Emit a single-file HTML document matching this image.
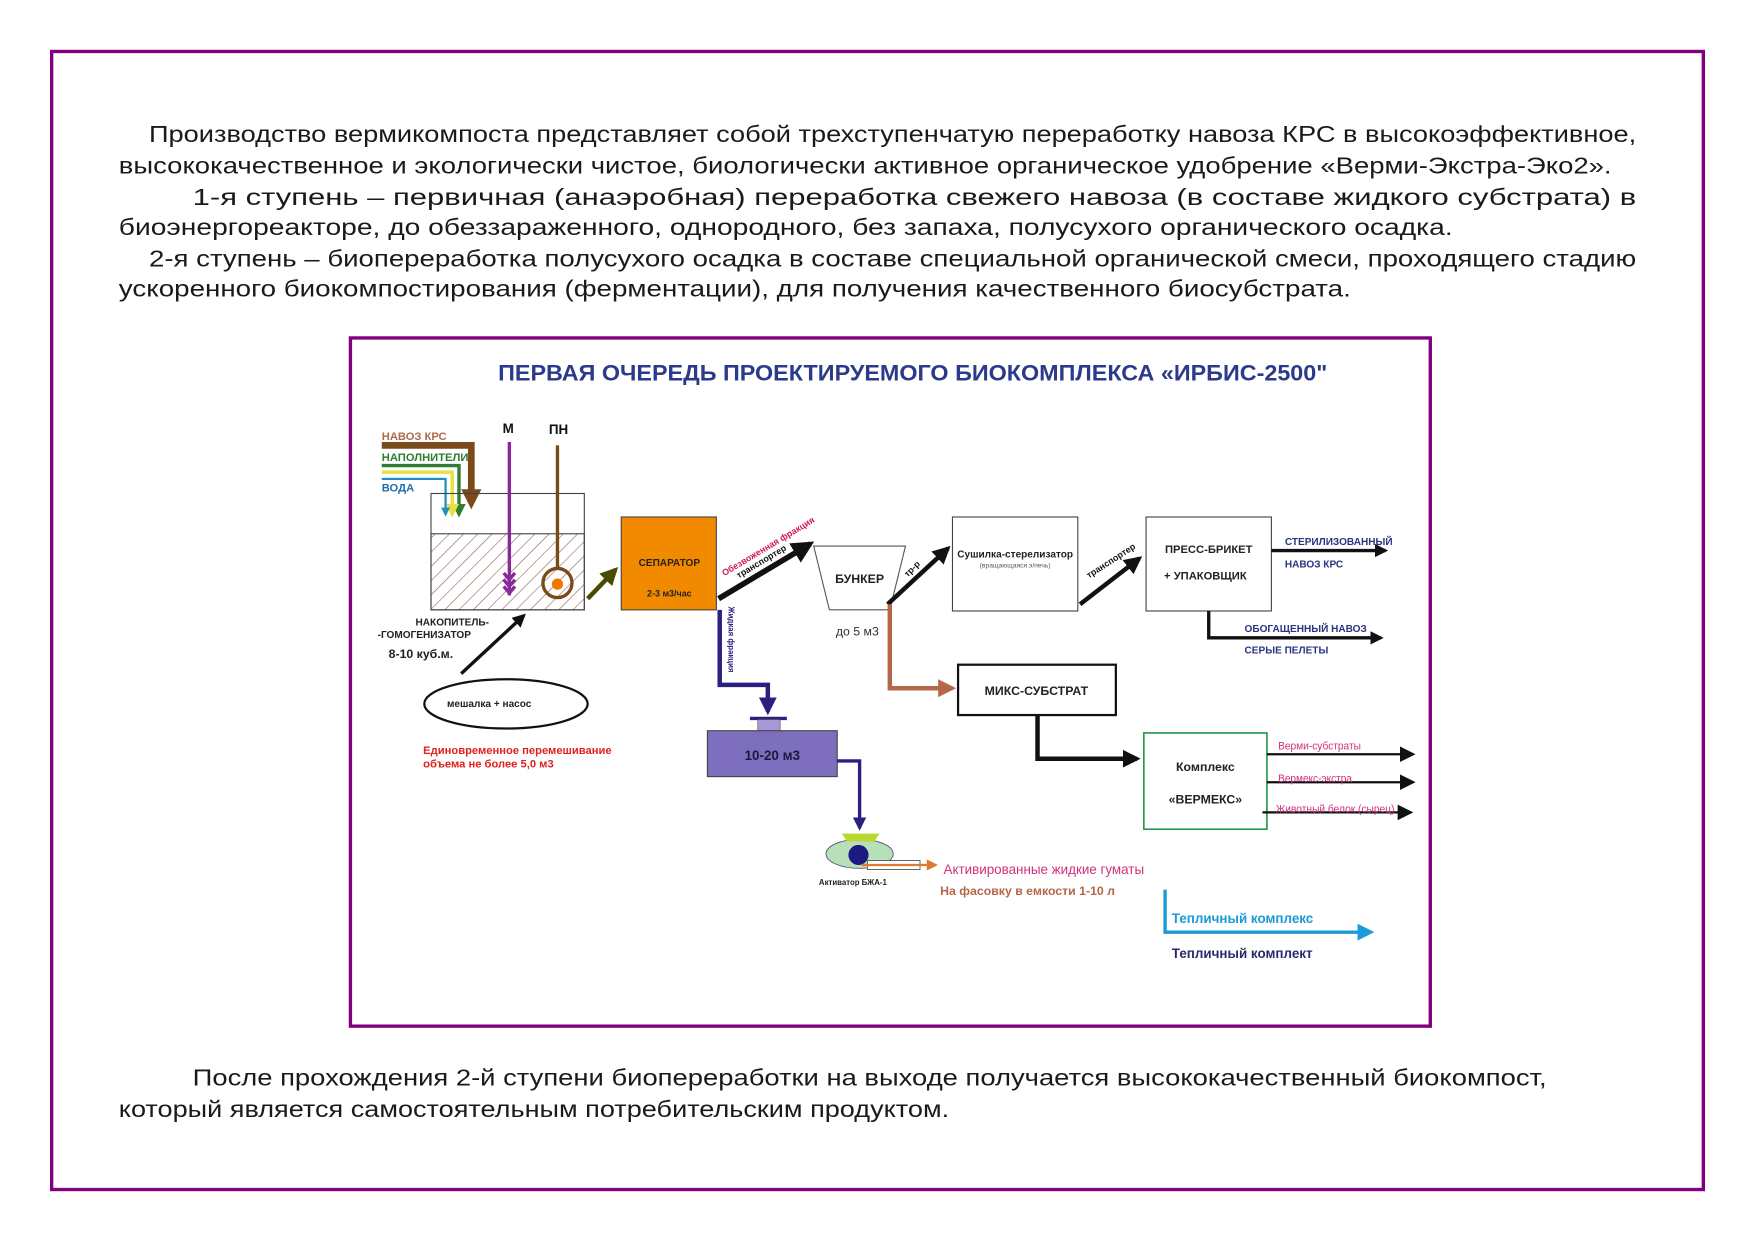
<!DOCTYPE html>
<html><head><meta charset="utf-8"><style>
html,body{margin:0;padding:0;background:#fff}
svg{display:block}
.p{font-family:"Liberation Sans",sans-serif;font-size:21px;fill:#1a1a1a}
.d{font-family:"Liberation Sans",sans-serif;font-weight:bold}
</style></head><body>
<svg width="1755" height="1241" viewBox="0 0 1568 1109" xmlns="http://www.w3.org/2000/svg">
<defs>
<marker id="ab" viewBox="0 0 10 10" refX="8" refY="5" markerWidth="4" markerHeight="4" orient="auto"><path d="M0,0L10,5L0,10z" fill="#111"/></marker>
<marker id="abs" viewBox="0 0 10 10" refX="8" refY="5" markerWidth="7" markerHeight="7" orient="auto"><path d="M0,0L10,5L0,10z" fill="#111"/></marker>
<marker id="an" viewBox="0 0 10 10" refX="8" refY="5" markerWidth="4" markerHeight="4" orient="auto"><path d="M0,0L10,5L0,10z" fill="#2a2080"/></marker>
<marker id="abr" viewBox="0 0 10 10" refX="8" refY="5" markerWidth="4" markerHeight="4" orient="auto"><path d="M0,0L10,5L0,10z" fill="#b5674a"/></marker>
<marker id="abl" viewBox="0 0 10 10" refX="8" refY="5" markerWidth="5" markerHeight="5" orient="auto"><path d="M0,0L10,5L0,10z" fill="#1a9ad6"/></marker>
<marker id="ao" viewBox="0 0 10 10" refX="8" refY="5" markerWidth="5" markerHeight="5" orient="auto"><path d="M0,0L10,5L0,10z" fill="#e07a30"/></marker>
<marker id="aol" viewBox="0 0 10 10" refX="8" refY="5" markerWidth="4" markerHeight="4" orient="auto"><path d="M0,0L10,5L0,10z" fill="#4a4a00"/></marker>
<marker id="abrn" viewBox="0 0 10 10" refX="6" refY="5" markerWidth="3" markerHeight="3" orient="auto"><path d="M0,0L10,5L0,10z" fill="#7a4a1a"/></marker>
<marker id="ag" viewBox="0 0 10 10" refX="8" refY="5" markerWidth="4" markerHeight="4" orient="auto"><path d="M0,0L10,5L0,10z" fill="#2e7d32"/></marker>
<marker id="ay" viewBox="0 0 10 10" refX="8" refY="5" markerWidth="4" markerHeight="4" orient="auto"><path d="M0,0L10,5L0,10z" fill="#e8e040"/></marker>
<marker id="ac" viewBox="0 0 10 10" refX="8" refY="5" markerWidth="4" markerHeight="4" orient="auto"><path d="M0,0L10,5L0,10z" fill="#1e8fc0"/></marker>
<pattern id="h" width="9" height="9" patternUnits="userSpaceOnUse" patternTransform="rotate(45)"><line x1="0" y1="0" x2="0" y2="9" stroke="#8b5a4a" stroke-width="1"/></pattern>
</defs>
<rect x="46" y="46" width="1476" height="1017" fill="none" stroke="#800080" stroke-width="3"/>
<text class="p" x="133" y="127" textLength="1329" lengthAdjust="spacingAndGlyphs">Производство вермикомпоста представляет собой трехступенчатую переработку навоза КРС в высокоэффективное,</text>
<text class="p" x="106" y="155" textLength="1334" lengthAdjust="spacingAndGlyphs">высококачественное и экологически чистое, биологически активное органическое удобрение «Верми-Экстра-Эко2».</text>
<text class="p" x="172" y="183" textLength="1290" lengthAdjust="spacingAndGlyphs">1-я ступень – первичная (анаэробная) переработка свежего навоза (в составе жидкого субстрата) в</text>
<text class="p" x="106" y="210" textLength="1192" lengthAdjust="spacingAndGlyphs">биоэнергореакторе, до обеззараженного, однородного, без запаха, полусухого органического осадка.</text>
<text class="p" x="133" y="238" textLength="1329" lengthAdjust="spacingAndGlyphs">2-я ступень – биопереработка полусухого осадка в составе специальной органической смеси, проходящего стадию</text>
<text class="p" x="106" y="265" textLength="1101" lengthAdjust="spacingAndGlyphs">ускоренного биокомпостирования (ферментации), для получения качественного биосубстрата.</text>
<text class="p" x="172" y="970" textLength="1210" lengthAdjust="spacingAndGlyphs">После прохождения 2-й ступени биопереработки на выходе получается высококачественный биокомпост,</text>
<text class="p" x="106" y="998" textLength="742" lengthAdjust="spacingAndGlyphs">который является самостоятельным потребительским продуктом.</text>

<rect x="313" y="302" width="965" height="615" fill="none" stroke="#800080" stroke-width="3"/>
<text class="d" x="445" y="340" font-size="20" fill="#2b3a8a" textLength="741" lengthAdjust="spacingAndGlyphs">ПЕРВАЯ ОЧЕРЕДЬ ПРОЕКТИРУЕМОГО БИОКОМПЛЕКСА «ИРБИС-2500"</text>

<!-- inputs -->
<text class="d" x="341" y="393" font-size="10" fill="#b06a4a">НАВОЗ КРС</text>
<text class="d" x="341" y="412" font-size="10" fill="#2e7d32">НАПОЛНИТЕЛИ</text>
<text class="d" x="341" y="439" font-size="10" fill="#1e6fb0">ВОДА</text>
<path d="M341,398 H421 V448" fill="none" stroke="#7a4a1a" stroke-width="6" marker-end="url(#abrn)"/>
<path d="M341,416 H410 V460" fill="none" stroke="#2e7d32" stroke-width="3" marker-end="url(#ag)"/>
<path d="M341,422 H404 V460" fill="none" stroke="#e8e040" stroke-width="3" marker-end="url(#ay)"/>
<path d="M341,428 H398 V460" fill="none" stroke="#1e8fc0" stroke-width="2" marker-end="url(#ac)"/>
<rect x="385" y="441" width="137" height="104" fill="none" stroke="#444" stroke-width="1"/>
<rect x="385" y="477" width="137" height="68" fill="url(#h)" stroke="#444" stroke-width="1"/>
<text class="d" x="454" y="387" font-size="12" fill="#111" text-anchor="middle">М</text>
<text class="d" x="499" y="388" font-size="12" fill="#111" text-anchor="middle">ПН</text>
<line x1="455" y1="395" x2="455" y2="532" stroke="#8a2a9a" stroke-width="3"/>
<path d="M450,512 L455,518 L460,512 M450,518 L455,524 L460,518 M450,524 L455,530 L460,524" fill="none" stroke="#8a2a9a" stroke-width="3"/>
<line x1="498" y1="398" x2="498" y2="508" stroke="#7a4a1a" stroke-width="3"/>
<circle cx="498" cy="521" r="13" fill="none" stroke="#7a4a1a" stroke-width="3"/>
<circle cx="498" cy="522" r="5" fill="#f07800"/>
<line x1="525" y1="535" x2="550" y2="509" stroke="#4a4a00" stroke-width="4" marker-end="url(#aol)"/>
<text class="d" x="404" y="559" font-size="9" fill="#222" text-anchor="middle">НАКОПИТЕЛЬ-</text>
<text class="d" x="379" y="570" font-size="9" fill="#222" text-anchor="middle">-ГОМОГЕНИЗАТОР</text>
<text class="d" x="376" y="588" font-size="11" fill="#222" text-anchor="middle">8-10 куб.м.</text>
<line x1="412" y1="602" x2="468" y2="550" stroke="#111" stroke-width="3" marker-end="url(#ab)"/>
<ellipse cx="452" cy="629" rx="73" ry="22" fill="#fff" stroke="#111" stroke-width="2"/>
<text class="d" x="437" y="632" font-size="9" fill="#222" text-anchor="middle">мешалка + насос</text>
<text class="d" x="378" y="674" font-size="10" fill="#e02020">Единовременное перемешивание</text>
<text class="d" x="378" y="686" font-size="10" fill="#e02020">объема не более 5,0 м3</text>

<!-- separator -->
<rect x="555" y="462" width="85" height="83" fill="#f28a00" stroke="#444" stroke-width="1"/>
<text class="d" x="598" y="506" font-size="9" fill="#222" text-anchor="middle">СЕПАРАТОР</text>
<text class="d" x="598" y="533" font-size="8" fill="#222" text-anchor="middle">2-3 м3/час</text>
<line x1="642" y1="535" x2="724" y2="486" stroke="#111" stroke-width="5" marker-end="url(#ab)"/>
<text class="d" font-size="8" fill="#d01a50" transform="translate(647,515) rotate(-31)">Обезвоженная фракция</text>
<text class="d" font-size="8" fill="#111" transform="translate(660,517) rotate(-31)">транспортер</text>
<polygon points="727,488 809,488 795,545 741,545" fill="#fff" stroke="#555" stroke-width="1"/>
<text class="d" x="768" y="521" font-size="11" fill="#222" text-anchor="middle">БУНКЕР</text>
<text x="766" y="568" font-size="11" fill="#333" text-anchor="middle" font-family="Liberation Sans,sans-serif">до 5 м3</text>
<line x1="793" y1="540" x2="847" y2="490" stroke="#111" stroke-width="4" marker-end="url(#ab)"/>
<text class="d" font-size="8" fill="#111" transform="translate(811,516) rotate(-45)">тр-р</text>
<rect x="851" y="462" width="112" height="84" fill="#fff" stroke="#444" stroke-width="1"/>
<text class="d" x="907" y="498" font-size="9" fill="#222" text-anchor="middle">Сушилка-стерелизатор</text>
<text x="907" y="507" font-size="6" fill="#555" text-anchor="middle" font-family="Liberation Sans,sans-serif">(вращающаяся э/печь)</text>
<line x1="965" y1="540" x2="1018" y2="499" stroke="#111" stroke-width="4" marker-end="url(#ab)"/>
<text class="d" font-size="8" fill="#111" transform="translate(973,517) rotate(-33)">транспортер</text>
<rect x="1024" y="462" width="112" height="84" fill="#fff" stroke="#444" stroke-width="1"/>
<text class="d" x="1080" y="494" font-size="10" fill="#222" text-anchor="middle">ПРЕСС-БРИКЕТ</text>
<text class="d" x="1077" y="518" font-size="10" fill="#222" text-anchor="middle">+ УПАКОВЩИК</text>
<line x1="1136" y1="492" x2="1238" y2="492" stroke="#111" stroke-width="3" marker-end="url(#ab)"/>
<text class="d" x="1148" y="487" font-size="9" fill="#2a3580">СТЕРИЛИЗОВАННЫЙ</text>
<text class="d" x="1148" y="507" font-size="9" fill="#2a3580">НАВОЗ  КРС</text>
<path d="M1080,546 V570 H1234" fill="none" stroke="#111" stroke-width="3" marker-end="url(#ab)"/>
<text class="d" x="1112" y="565" font-size="9" fill="#2a3580">ОБОГАЩЕННЫЙ НАВОЗ</text>
<text class="d" x="1112" y="584" font-size="9" fill="#2a3580">СЕРЫЕ ПЕЛЕТЫ</text>

<path d="M795,540 V615 H851" fill="none" stroke="#b5674a" stroke-width="4" marker-end="url(#abr)"/>
<rect x="856" y="594" width="141" height="45" fill="#fff" stroke="#111" stroke-width="2"/>
<text class="d" x="926" y="621" font-size="11" fill="#222" text-anchor="middle">МИКС-СУБСТРАТ</text>
<path d="M927,639 V678 H1016" fill="none" stroke="#111" stroke-width="4" marker-end="url(#ab)"/>
<rect x="1022" y="655" width="110" height="86" fill="#fff" stroke="#2a9a4a" stroke-width="1.5"/>
<text class="d" x="1077" y="689" font-size="11" fill="#222" text-anchor="middle">Комплекс</text>
<text class="d" x="1077" y="718" font-size="11" fill="#222" text-anchor="middle">«ВЕРМЕКС»</text>
<line x1="1132" y1="674" x2="1262" y2="674" stroke="#111" stroke-width="2" marker-end="url(#abs)"/>
<line x1="1132" y1="699" x2="1262" y2="699" stroke="#111" stroke-width="2" marker-end="url(#abs)"/>
<line x1="1128" y1="726" x2="1260" y2="726" stroke="#111" stroke-width="2" marker-end="url(#abs)"/>
<text x="1142" y="670" font-size="10" fill="#d0307a" font-family="Liberation Sans,sans-serif" textLength="74" lengthAdjust="spacingAndGlyphs">Верми-субстраты</text>
<text x="1142" y="699" font-size="10" fill="#d0307a" font-family="Liberation Sans,sans-serif" textLength="66" lengthAdjust="spacingAndGlyphs">Вермекс-экстра</text>
<text x="1140" y="726" font-size="10" fill="#d0307a" font-family="Liberation Sans,sans-serif" textLength="106" lengthAdjust="spacingAndGlyphs">Животный белок (сырец)</text>

<!-- liquid path -->
<path d="M643,545 V612 H686 V636" fill="none" stroke="#2a2080" stroke-width="4" marker-end="url(#an)"/>
<text class="d" font-size="7" fill="#2a2080" transform="translate(651,542) rotate(90)">Жидкая фракция</text>
<line x1="670" y1="642" x2="703" y2="642" stroke="#2a2080" stroke-width="3"/>
<rect x="677" y="643" width="20" height="10" fill="#a898d8" stroke="#444" stroke-width="0.5"/>
<rect x="632" y="653" width="116" height="41" fill="#7e6ebe" stroke="#444" stroke-width="1"/>
<text class="d" x="690" y="679" font-size="12" fill="#1a1a3a" text-anchor="middle">10-20 м3</text>
<path d="M748,680 H768 V740" fill="none" stroke="#2a2080" stroke-width="3" marker-end="url(#an)"/>
<ellipse cx="768" cy="763" rx="30" ry="13" fill="#b8e0b8" stroke="#557" stroke-width="0.8"/>
<polygon points="752,745 786,745 781,752 757,752" fill="#b8d830"/>
<circle cx="767" cy="764" r="9" fill="#1a1a80"/>
<rect x="775" y="769" width="47" height="8" fill="#fff" stroke="#555" stroke-width="0.8"/>
<line x1="770" y1="773" x2="836" y2="773" stroke="#e07a30" stroke-width="2" marker-end="url(#ao)"/>
<text class="d" x="762" y="791" font-size="7" fill="#222" text-anchor="middle">Активатор БЖА-1</text>
<text x="843" y="781" font-size="12" fill="#d0307a" font-family="Liberation Sans,sans-serif">Активированные жидкие гуматы</text>
<text class="d" x="840" y="800" font-size="11" fill="#b5674a">На фасовку в емкости 1-10 л</text>
<path d="M1041,795 V833 H1225" fill="none" stroke="#1a9ad6" stroke-width="3" marker-end="url(#abl)"/>
<text class="d" x="1047" y="825" font-size="12" fill="#1a9ad6">Тепличный комплекс</text>
<text class="d" x="1047" y="856" font-size="12" fill="#2a2a6a">Тепличный комплект</text>
</svg>
</body></html>
